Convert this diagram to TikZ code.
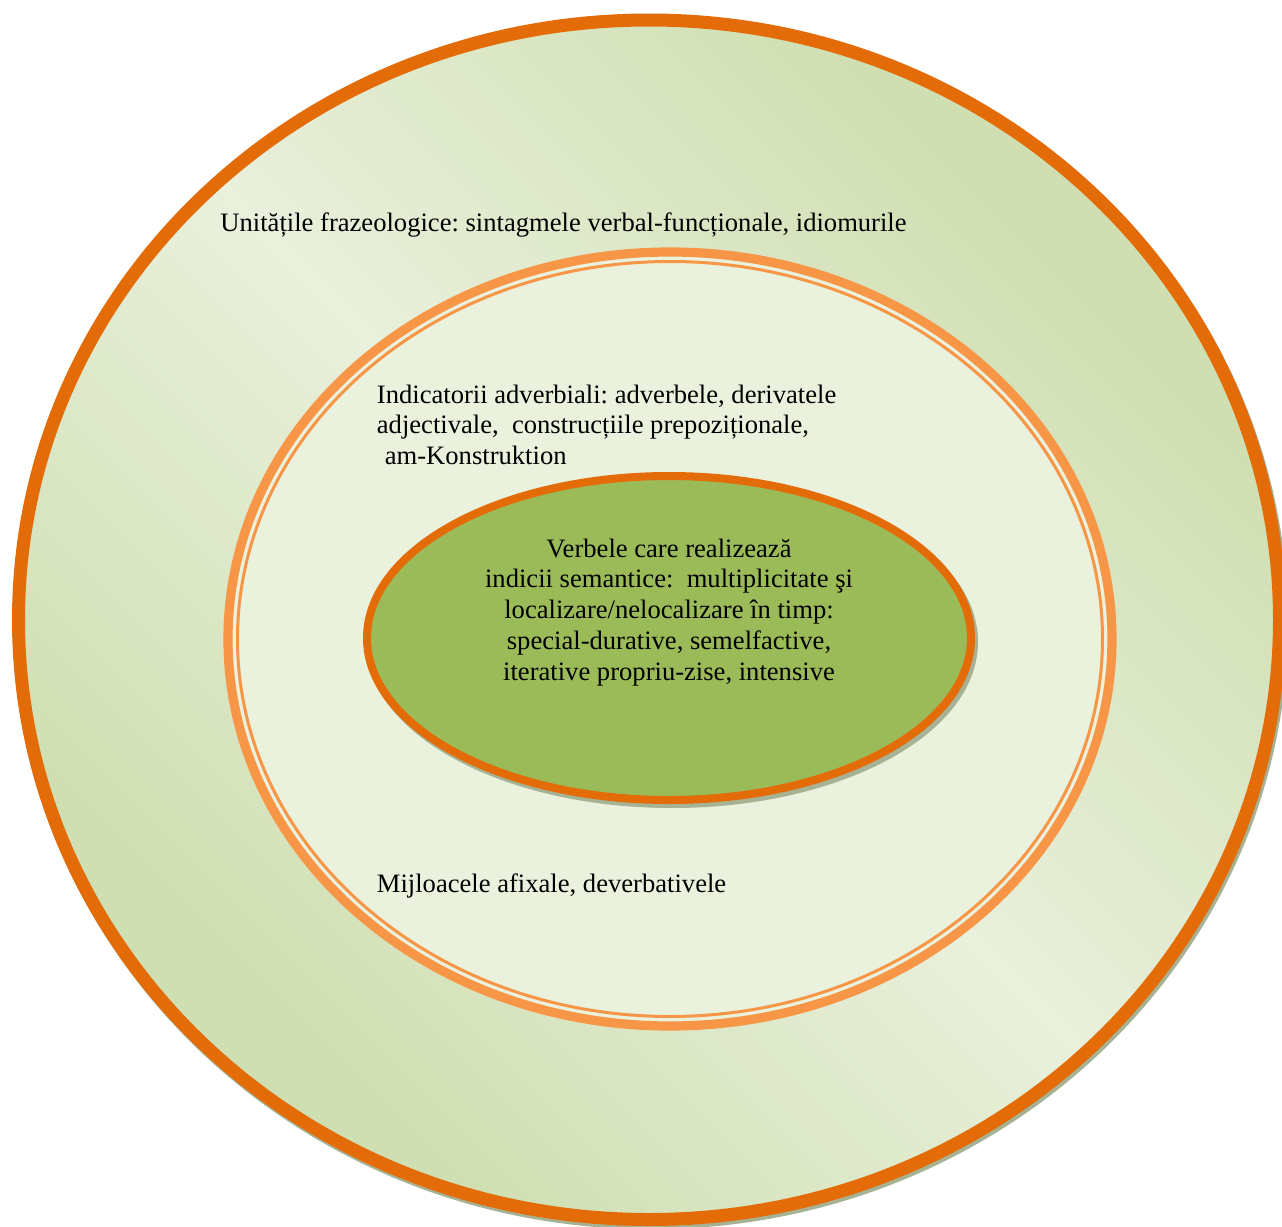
\documentclass[tikz,border=0pt]{standalone}
\usepackage{fontspec}
\setmainfont{Liberation Serif}
\usepackage{xcolor}
\definecolor{ringorange}{HTML}{E36C09}
\definecolor{midorange}{HTML}{F79646}
\definecolor{corefill}{HTML}{9BBB59}
\definecolor{midfill}{HTML}{EAF1DD}
\definecolor{outerlight}{HTML}{E9F0DC}
\definecolor{outerdark}{HTML}{D0DFB2}
\definecolor{shadowgray}{HTML}{A5B394}
\pgfdeclarehorizontalshading{outerband}{100bp}{color(0bp)=(outerdark); color(28bp)=(outerdark); color(50bp)=(outerlight); color(72bp)=(outerdark); color(100bp)=(outerdark)}
\frenchspacing

\begin{document}
\begin{tikzpicture}[x=0.5pt, y=-0.5pt,
    ringtext/.style={font=\fontsize{13.3}{15.35}\selectfont, inner sep=0pt}]
  \useasboundingbox (0,0) rectangle (1282,1227);
  \draw [shadowgray, line width=6.5pt] (651,623) ellipse (630.5 and 599.75);
  \shade [shading=outerband, shading angle=45] (649,619.75) ellipse (630.5 and 599.75);
  \draw [ringorange, line width=6.5pt] (649,619.75) ellipse (630.5 and 599.75);
  \draw [midorange, fill=midfill, line width=4.6pt] (670,639) ellipse (442 and 387);
  \draw [midorange, line width=1.5pt] (670,639) ellipse (432.5 and 377.5);
  \draw [shadowgray, fill=shadowgray, line width=4pt] (672,642) ellipse (302 and 162);
  \draw [ringorange, fill=corefill, line width=4pt] (669,638) ellipse (302 and 162);
  \node [ringtext, anchor=base west] (frazeo) at (220,231)
    {Unitățile frazeologice: sintagmele verbal-funcționale, idiomurile};
  \node [ringtext, anchor=base west, align=left] (adverb) at (376.5,464.5)
    {Indicatorii adverbiali: adverbele, derivatele\\adjectivale, \ construcțiile prepoziționale,\\\hspace*{0.3em}am-Konstruktion};
  \node [ringtext, anchor=base, align=center] (verbe) at (669,680)
    {Verbele care realizează\\indicii semantice: \ multiplicitate şi\\localizare/nelocalizare în timp:\\special-durative, semelfactive,\\iterative propriu-zise, intensive};
  \node [ringtext, anchor=base west] (afix) at (376.5,892)
    {Mijloacele afixale, deverbativele};
\end{tikzpicture}
\end{document}
